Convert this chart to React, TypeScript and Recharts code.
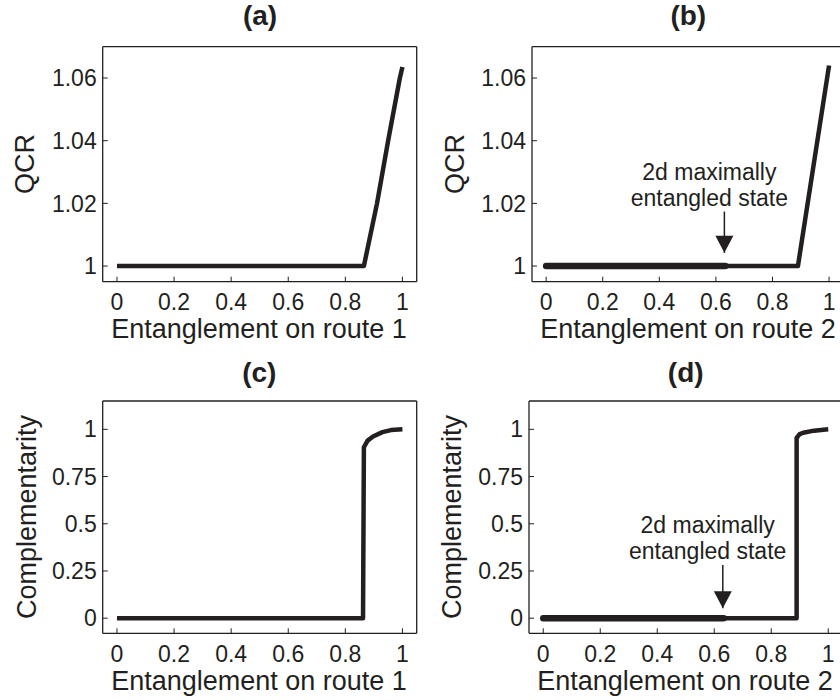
import React from 'react';
import { LineChart, Line, XAxis, YAxis, ReferenceLine, ReferenceDot } from 'recharts';

const FONT = '"Liberation Sans", Arial, Helvetica, sans-serif';
const INK = '#231f20';

// shared ticks
const xTicks = [0, 0.2, 0.4, 0.6, 0.8, 1];
const qcrTicks = [1, 1.02, 1.04, 1.06];
const compTicks = [0, 0.25, 0.5, 0.75, 1];

// (a) QCR vs entanglement on route 1
const qcr1X = [0, 0.865, 0.911, 0.95, 0.991, 1];
const qcr1Y = [1, 1, 1.02, 1.04, 1.06, 1.0635];

// (b) QCR vs entanglement on route 2
const qcr2X = [0, 0.89, 1];
const qcr2Y = [1, 1, 1.064];

// (c) complementarity vs route 1
const comp1X = [0, 0.862, 0.865, 0.878, 0.897, 0.93, 0.96, 1];
const comp1Y = [0, 0, 0.905, 0.94, 0.962, 0.985, 0.996, 1];

// (d) complementarity vs route 2
const comp2X = [0, 0.889, 0.889, 0.9, 0.912, 0.95, 1];
const comp2Y = [0, 0, 0.955, 0.975, 0.982, 0.993, 1];

// highlighted range up to the 2d maximally entangled state
const maxEntX = [0, 0.633];
const arrowX = 0.63;
const annotLines = ['2d maximally', 'entangled state'];
const annotTextX = 0.577;
// y positions: [line 1, line 2, shaft top, arrow tip]
const annotQcrY = [1.0301, 1.0218, 1.0174, 1.0042];
const annotCompY = [0.494, 0.358, 0.282, 0.053];

const zip = (xs: number[], ys: number[]) => xs.map((x, i) => ({ x, y: ys[i] }));

const arrowHead = (props: any) => {
  const { cx, cy } = props;
  return <path d={`M${cx},${cy} L${cx - 9},${cy - 17} L${cx + 9},${cy - 17} Z`} fill={INK} />;
};

const textShape = (label: string) => (props: any) => (
  <text x={props.cx} y={props.cy} textAnchor="middle" dominantBaseline="central" fontSize={23} fontFamily={FONT} fill={INK}>
    {label}
  </text>
);

interface PanelProps {
  left: number;
  top: number;
  width: number;
  height: number;
  margin: { top: number; left: number; right: number; bottom: number };
  yDomain: [number, number];
  yTicks: number[];
  data: { x: number; y: number }[];
  highlight?: { x: number; y: number }[];
  annot?: number[];
}

function Panel({ left, top, width, height, margin, yDomain, yTicks, data, highlight, annot }: PanelProps) {
  const tickStyle = { fontSize: 23, fill: INK, fontFamily: FONT };
  return (
    <div style={{ position: 'absolute', left, top }}>
      <LineChart width={width} height={height} margin={margin}>
        <XAxis
          dataKey="x"
          type="number"
          domain={[-0.05, 1.05]}
          ticks={xTicks}
          height={40}
          tickSize={-5}
          tickMargin={17}
          tick={tickStyle}
          axisLine={{ stroke: INK, strokeWidth: 1.3 }}
          tickLine={{ stroke: INK }}
        />
        <XAxis
          xAxisId="top"
          orientation="top"
          type="number"
          domain={[-0.05, 1.05]}
          ticks={xTicks}
          height={1}
          tickSize={-5}
          tick={false}
          axisLine={{ stroke: INK, strokeWidth: 1.3 }}
          tickLine={{ stroke: INK }}
        />
        <YAxis
          type="number"
          domain={yDomain}
          ticks={yTicks}
          width={60}
          tickSize={-5}
          tickMargin={11}
          tick={tickStyle}
          axisLine={{ stroke: INK, strokeWidth: 1.3 }}
          tickLine={{ stroke: INK }}
        />
        <YAxis
          yAxisId="right"
          orientation="right"
          type="number"
          domain={yDomain}
          ticks={yTicks}
          width={1}
          tickSize={-5}
          tick={false}
          axisLine={{ stroke: INK, strokeWidth: 1.3 }}
          tickLine={{ stroke: INK }}
        />
        <Line
          data={data}
          dataKey="y"
          type="linear"
          stroke={INK}
          strokeWidth={4.5}
          strokeLinejoin="round"
          dot={false}
          isAnimationActive={false}
        />
        {highlight && (
          <Line
            data={highlight}
            dataKey="y"
            type="linear"
            stroke={INK}
            strokeWidth={6.5}
            strokeLinecap="round"
            dot={false}
            isAnimationActive={false}
          />
        )}
        {annot && (
          <ReferenceLine
            segment={[{ x: arrowX, y: annot[2] }, { x: arrowX, y: annot[3] }]}
            stroke={INK}
            strokeWidth={1.5}
          />
        )}
        {annot && <ReferenceDot x={arrowX} y={annot[3]} r={0} shape={arrowHead} />}
        {annot && <ReferenceDot x={annotTextX} y={annot[0]} r={0} shape={textShape(annotLines[0])} />}
        {annot && <ReferenceDot x={annotTextX} y={annot[1]} r={0} shape={textShape(annotLines[1])} />}
      </LineChart>
    </div>
  );
}

const textBase: React.CSSProperties = {
  position: 'absolute',
  fontFamily: FONT,
  color: INK,
  lineHeight: 1,
  whiteSpace: 'nowrap',
};

function Title({ x, y, text }: { x: number; y: number; text: string }) {
  return (
    <div style={{ ...textBase, left: x, top: y, fontSize: 28, fontWeight: 'bold', transform: 'translate(-50%, -50%)' }}>
      {text}
    </div>
  );
}

function XLabel({ x, baseline, text }: { x: number; baseline: number; text: string }) {
  return (
    <div style={{ ...textBase, left: x, top: baseline - 23.7, fontSize: 27, transform: 'translateX(-50%)' }}>{text}</div>
  );
}

function YLabel({ x, y, text }: { x: number; y: number; text: string }) {
  return (
    <div style={{ ...textBase, left: x, top: y, fontSize: 27, transform: 'translate(-50%, -50%) rotate(-90deg)' }}>
      {text}
    </div>
  );
}

export default function App() {
  return (
    <div
      style={{
        position: 'absolute',
        left: 0,
        top: 0,
        width: 840,
        height: 700,
        overflow: 'hidden',
        background: '#fff',
      }}
    >
      <Panel
        left={0}
        top={0}
        width={420}
        height={340}
        margin={{ top: 45.7, left: 42.7, right: 2.3, bottom: 18.3 }}
        yDomain={[0.995, 1.07]}
        yTicks={qcrTicks}
        data={zip(qcr1X, qcr1Y)}
      />
      <Panel
        left={420}
        top={0}
        width={440}
        height={340}
        margin={{ top: 45.7, left: 52, right: 15.8, bottom: 18.3 }}
        yDomain={[0.995, 1.07]}
        yTicks={qcrTicks}
        data={zip(qcr2X, qcr2Y)}
        highlight={zip(maxEntX, maxEntX.map(() => 1))}
        annot={annotQcrY}
      />
      <Panel
        left={0}
        top={340}
        width={420}
        height={360}
        margin={{ top: 60, left: 42.7, right: 2.3, bottom: 26.7 }}
        yDomain={[-0.08, 1.15]}
        yTicks={compTicks}
        data={zip(comp1X, comp1Y)}
      />
      <Panel
        left={420}
        top={340}
        width={440}
        height={360}
        margin={{ top: 60, left: 49, right: 16.5, bottom: 26.7 }}
        yDomain={[-0.08, 1.15]}
        yTicks={compTicks}
        data={zip(comp2X, comp2Y)}
        highlight={zip(maxEntX, maxEntX.map(() => 0))}
        annot={annotCompY}
      />

      <Title x={260} y={16} text="(a)" />
      <Title x={688.3} y={16} text="(b)" />
      <Title x={259.3} y={372.6} text="(c)" />
      <Title x={685.7} y={372.6} text="(d)" />

      <YLabel x={25} y={164} text="QCR" />
      <YLabel x={455} y={164} text="QCR" />
      <YLabel x={26.7} y={517} text="Complementarity" />
      <YLabel x={451.7} y={517} text="Complementarity" />

      <XLabel x={259} baseline={339.5} text="Entanglement on route 1" />
      <XLabel x={688} baseline={339.5} text="Entanglement on route 2" />
      <XLabel x={259} baseline={691.7} text="Entanglement on route 1" />
      <XLabel x={685} baseline={691.7} text="Entanglement on route 2" />
    </div>
  );
}
